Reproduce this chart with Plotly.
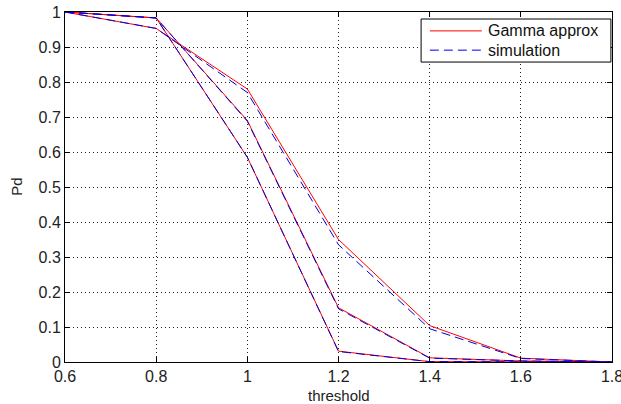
import plotly.graph_objects as go

threshold = [0.6, 0.8, 1.0, 1.2, 1.4, 1.6, 1.8]
gamma_a = [1.0, 0.953, 0.78, 0.35, 0.104, 0.011, 0.0]
sim_a = [1.0, 0.953, 0.77, 0.335, 0.095, 0.010, 0.0]
gamma_b = [1.0, 0.983, 0.69, 0.155, 0.012, 0.003, 0.0]
sim_b = [1.0, 0.983, 0.688, 0.152, 0.011, 0.003, 0.0]
gamma_c = [1.0, 0.983, 0.585, 0.031, 0.001, 0.0, 0.0]
sim_c = [1.0, 0.983, 0.585, 0.030, 0.001, 0.0, 0.0]

x_ticks = [0.6, 0.8, 1.0, 1.2, 1.4, 1.6, 1.8]
x_tick_text = ["0.6", "0.8", "1", "1.2", "1.4", "1.6", "1.8"]
y_ticks = [0, 0.1, 0.2, 0.3, 0.4, 0.5, 0.6, 0.7, 0.8, 0.9, 1.0]
y_tick_text = ["0", "0.1", "0.2", "0.3", "0.4", "0.5", "0.6", "0.7", "0.8", "0.9", "1"]
legend_labels = ["Gamma approx", "simulation"]

RED = "#ff0000"
BLUE = "#0000dd"
DASH = "9px,5px"
FONT = "Liberation Sans, Arial, sans-serif"

fig = go.Figure()
for g in [gamma_a, gamma_b, gamma_c]:
    fig.add_trace(go.Scatter(x=threshold, y=g, mode="lines", name=legend_labels[0],
                             showlegend=False, line=dict(color=RED, width=1)))
for s in [sim_a, sim_b, sim_c]:
    fig.add_trace(go.Scatter(x=threshold, y=s, mode="lines", name=legend_labels[1],
                             showlegend=False, line=dict(color=BLUE, width=1, dash=DASH)))

axis_common = dict(
    showline=True, linecolor="black", linewidth=1, mirror="ticks",
    ticks="inside", ticklen=5, tickcolor="black",
    showgrid=True, gridcolor="#222", gridwidth=1, griddash="1px,3px",
    zeroline=False, ticklabeloverflow="allow", automargin=False,
    tickfont=dict(family=FONT, size=16, color="#222"),
)

fig.update_xaxes(range=[0.6, 1.8], tickvals=x_ticks, ticktext=x_tick_text, **axis_common)
fig.update_yaxes(range=[0, 1], tickvals=y_ticks, ticktext=y_tick_text, **axis_common)

# axis titles
fig.add_annotation(xref="paper", yref="paper", x=0.5, y=-0.097, text="threshold",
                   showarrow=False, xanchor="center", yanchor="middle",
                   font=dict(family=FONT, size=15, color="#222"))
fig.add_annotation(xref="paper", yref="paper", x=-0.09, y=0.5, text="Pd", textangle=-90,
                   showarrow=False, xanchor="center", yanchor="middle",
                   font=dict(family=FONT, size=15, color="#222"))

# manual legend box (paper coords relative to plot area)
fig.add_shape(type="rect", xref="paper", yref="paper", x0=0.651, x1=0.998, y0=0.857, y1=0.980,
              line=dict(color="black", width=1), fillcolor="white", layer="above")
fig.add_shape(type="line", xref="paper", yref="paper", x0=0.667, x1=0.762, y0=0.946, y1=0.946,
              line=dict(color=RED, width=1), layer="above")
fig.add_shape(type="line", xref="paper", yref="paper", x0=0.667, x1=0.762, y0=0.891, y1=0.891,
              line=dict(color=BLUE, width=1, dash=DASH), layer="above")
fig.add_annotation(xref="paper", yref="paper", x=0.770, y=0.946, text=legend_labels[0],
                   showarrow=False, xanchor="left", yanchor="middle",
                   font=dict(family=FONT, size=16, color="#111"))
fig.add_annotation(xref="paper", yref="paper", x=0.770, y=0.891, text=legend_labels[1],
                   showarrow=False, xanchor="left", yanchor="middle",
                   font=dict(family=FONT, size=16, color="#111"))

fig.update_layout(
    width=621, height=404, autosize=False,
    margin=dict(l=65, r=9, t=12, b=42),
    paper_bgcolor="white", plot_bgcolor="white",
    font=dict(family=FONT, size=15, color="#222"),
    showlegend=False,
)

fig.write_html("out.html")
